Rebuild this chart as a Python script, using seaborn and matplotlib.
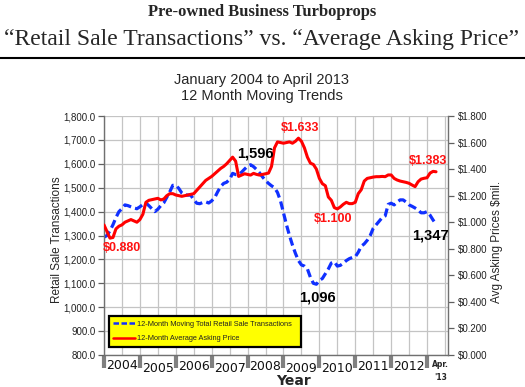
import numpy as np
import pandas as pd
import matplotlib
matplotlib.use("Agg")
import matplotlib.pyplot as plt
import matplotlib.transforms as mtransforms
from matplotlib.ticker import FuncFormatter, MultipleLocator
from matplotlib.lines import Line2D
import seaborn as sns

# ---------------- data (monthly, Jan 2004 .. Apr 2013) ----------------
years = ["2004", "2005", "2006", "2007", "2008", "2009", "2010", "2011", "2012"]
transactions = [
    1293, 1300, 1320, 1345, 1375, 1400, 1412, 1428, 1425, 1420, 1415, 1412,
    1420, 1430, 1436, 1425, 1412, 1400, 1410, 1425, 1437, 1460, 1483, 1510,
    1510, 1497, 1478, 1470, 1469, 1469, 1450, 1435, 1433, 1438, 1441, 1436,
    1445, 1458, 1483, 1505, 1518, 1523, 1535, 1560, 1555, 1555, 1565, 1578,
    1590, 1596, 1588, 1576, 1562, 1545, 1530, 1518, 1508, 1500, 1480, 1445,
    1395, 1345, 1300, 1260, 1225, 1195, 1177, 1172, 1160, 1125, 1100, 1096,
    1112, 1120, 1140, 1160, 1185, 1190, 1172, 1175, 1184, 1195, 1203, 1208,
    1211, 1230, 1255, 1265, 1280, 1300, 1330, 1345, 1360, 1375, 1382, 1430,
    1435, 1428, 1440, 1449, 1449, 1440, 1428, 1422, 1415, 1407, 1395, 1395,
    1400, 1385, 1365, 1347,
]
asking_price = [
    0.980, 0.930, 0.880, 0.885, 0.950, 0.970, 0.980, 1.000, 1.010, 1.020, 1.010, 1.000,
    1.020, 1.060, 1.150, 1.165, 1.170, 1.175, 1.180, 1.168, 1.175, 1.200, 1.215, 1.215,
    1.205, 1.200, 1.195, 1.200, 1.205, 1.210, 1.215, 1.240, 1.265, 1.290, 1.315, 1.330,
    1.345, 1.365, 1.385, 1.405, 1.420, 1.440, 1.465, 1.490, 1.460, 1.345, 1.355, 1.365,
    1.360, 1.355, 1.368, 1.360, 1.355, 1.360, 1.365, 1.370, 1.420, 1.560, 1.605, 1.600,
    1.595, 1.600, 1.605, 1.595, 1.610, 1.633, 1.610, 1.560, 1.490, 1.445, 1.435, 1.400,
    1.330, 1.290, 1.275, 1.190, 1.165, 1.110, 1.100, 1.115, 1.135, 1.150, 1.140, 1.140,
    1.150, 1.215, 1.245, 1.310, 1.330, 1.335, 1.340, 1.343, 1.343, 1.345, 1.343, 1.356,
    1.356, 1.330, 1.318, 1.310, 1.305, 1.300, 1.293, 1.280, 1.268, 1.305, 1.325, 1.331,
    1.335, 1.370, 1.383, 1.380,
]
months = list(range(len(transactions)))

df = pd.DataFrame({"month": months, "transactions": transactions,
                   "price": asking_price})

# ---------------- figure ----------------
sns.set_theme(style="white")
plt.rcParams["font.family"] = ["Liberation Sans", "DejaVu Sans"]

W, H = 525, 387
fig = plt.figure(figsize=(W / 100, H / 100), dpi=100)
fig.patch.set_facecolor("white")


def px(x, y):
    return x / W, 1 - y / H


L, R, T, B = 104, 448, 116, 355
ax = fig.add_axes([L / W, 1 - B / H, (R - L) / W, (B - T) / H])
ax2 = ax.twinx()

sns.lineplot(data=df, x="month", y="transactions", ax=ax, color="#1030ff",
             lw=2.3, label="12-Month Moving Total Retail Sale Transactions",
             legend=False)
ax.lines[0].set_dashes([2.6, 1.3])
sns.lineplot(data=df, x="month", y="price", ax=ax2, color="#ff0000",
             lw=2.2, label="12-Month Average Asking Price", legend=False)

ax.set_xlim(0, 115)
ax.set_ylim(800, 1800)
ax2.set_ylim(0, 1.8)

# grid
ax.xaxis.set_major_locator(MultipleLocator(12))
ax.xaxis.set_minor_locator(MultipleLocator(6))
ax.yaxis.set_major_locator(MultipleLocator(100))
ax.grid(True, which="both", axis="x", color="#c4c4c4", lw=0.9)
ax.grid(True, which="major", axis="y", color="#c4c4c4", lw=0.9)
ax.set_axisbelow(True)
ax2.grid(False)
ax2.yaxis.set_major_locator(MultipleLocator(0.2))

ax.set_xticklabels([])
ax.tick_params(axis="x", which="major", length=9, width=3, color="#808080",
               direction="out", bottom=True)
ax.tick_params(axis="x", which="minor", length=0)
ax.tick_params(axis="y", length=4, width=0.9, color="#606060",
               direction="out", left=True, labelsize=7, pad=2,
               labelcolor="#222222")
ax2.tick_params(axis="y", length=4, width=0.9, color="#606060",
                direction="out", right=True, labelsize=7, pad=3,
                labelcolor="#222222")
ax.yaxis.set_major_formatter(FuncFormatter(lambda v, p: f"{v:,.1f}"))
ax2.yaxis.set_major_formatter(FuncFormatter(lambda v, p: f"${v:.3f}"))

for a in (ax, ax2):
    a.set_xlabel("")
    a.set_ylabel("")
    a.spines["top"].set_visible(False)
    for s in ("left", "right", "bottom"):
        a.spines[s].set_color("#707070")
        a.spines[s].set_linewidth(1.0)
ax.spines["right"].set_visible(False)
ax2.spines["left"].set_visible(False)
ax2.spines["bottom"].set_visible(False)

# year labels
trans = mtransforms.blended_transform_factory(ax.transData, ax.transAxes)
year_dy = [-0.042, -0.055, -0.050, -0.058, -0.050, -0.055, -0.055, -0.047, -0.050]
for i, (yr, dy) in enumerate(zip(years, year_dy)):
    ax.text(6 + 12 * i, dy, yr, transform=trans, ha="center", va="center",
            fontsize=9, family="DejaVu Sans", color="#111111")
ax.text(112.6, -0.068, "Apr.\n'13", transform=trans, ha="center",
        va="center", fontsize=5.5, fontweight="bold", family="DejaVu Sans",
        linespacing=1.6)
fig.text(*px(293, 381), "Year", ha="center", va="center", fontsize=10,
         fontweight="bold", family="DejaVu Sans")

# axis labels
fig.text(*px(57, 240), "Retail Sale Transactions", rotation=90,
         ha="center", va="center", fontsize=8.5)
fig.text(*px(497, 242), "Avg Asking Prices $mil.", rotation=90,
         ha="center", va="center", fontsize=8.5)

# legend
handles = [Line2D([], [], color="#1030ff", lw=1.8, dashes=[2.2, 1.0]),
           Line2D([], [], color="#ff0000", lw=1.8)]
labels = ["12-Month Moving Total Retail Sale Transactions",
          "12-Month Average Asking Price"]
leg = ax2.legend(handles, labels, loc="center", mode="expand",
                 bbox_to_anchor=((109 - L) / (R - L), (B - 346) / (B - T),
                                 192 / (R - L), 29 / (B - T)),
                 fontsize=5.3, frameon=True, fancybox=False, framealpha=1,
                 facecolor="#ffff00", edgecolor="#000000", handlelength=2.9,
                 borderpad=0.6, labelspacing=1.0, handletextpad=0.3,
                 borderaxespad=0)
leg.get_frame().set_linewidth(1.6)
leg.set_zorder(10)
for t in leg.get_texts():
    t.set_color("#222222")

# annotations
red = "#ff1010"
ann = [
    (122, 248, "$0.880", red, 9),
    (255, 153, "1,596", "black", 10.5),
    (300, 128, "$1.633", red, 9),
    (317, 298, "1,096", "black", 10.5),
    (333, 219, "$1.100", red, 9),
    (428, 161, "$1.383", red, 9),
    (430, 236, "1,347", "black", 10.5),
]
for x, y, s, c, fs in ann:
    fig.text(*px(x, y), s, ha="center", va="center", color=c, fontsize=fs,
             fontweight="bold")

# titles
fig.text(*px(262, 12), "Pre-owned Business Turboprops", ha="center",
         va="center", fontsize=12, fontweight="bold",
         family="Liberation Serif")
fig.text(*px(262, 40), "\u201cRetail Sale Transactions\u201d vs. \u201cAverage Asking Price\u201d",
         ha="center", va="center", fontsize=17, family="Liberation Serif")
fig.add_artist(Line2D([0, 1], [1 - 58 / H, 1 - 58 / H], color="black",
                      lw=1.5, transform=fig.transFigure))
fig.text(*px(262, 80), "January 2004 to April 2013", ha="center",
         va="center", fontsize=10.5)
fig.text(*px(262, 96), "12 Month Moving Trends", ha="center",
         va="center", fontsize=10.5)

fig.savefig("out.png", dpi=100)
